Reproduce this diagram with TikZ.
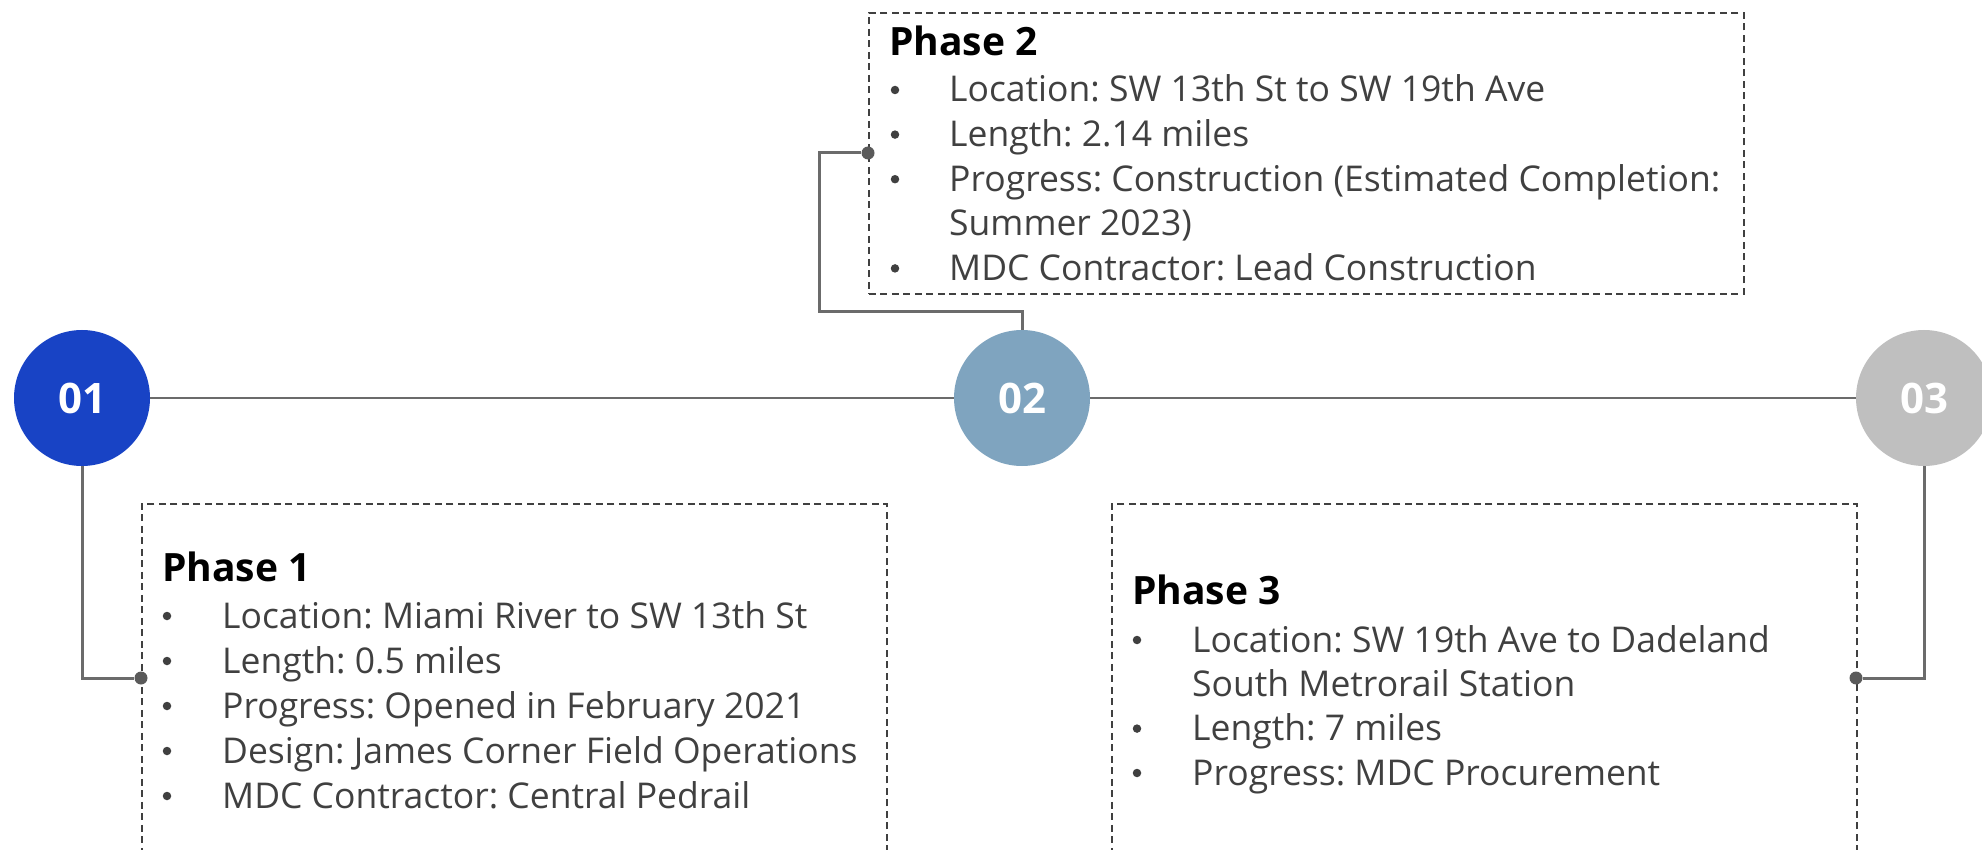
\documentclass[tikz,border=0pt]{standalone}
\usepackage{fontspec}
\setmainfont{Open Sans}
\frenchspacing
\definecolor{stageblue}{HTML}{1843C5}
\definecolor{stagesteel}{HTML}{7FA4BF}
\definecolor{stagesilver}{HTML}{BFBFBF}
\definecolor{linegray}{HTML}{6B6B6B}
\definecolor{dotgray}{HTML}{5A5A5A}
\definecolor{textgray}{HTML}{404040}
\definecolor{dashgray}{HTML}{404040}
\begin{document}
\begin{tikzpicture}[x=1pt,y=-1pt,
  stage/.style={circle, minimum size=136pt, inner sep=0pt, text=white,
    font=\fontsize{42}{50}\selectfont\bfseries},
  phasebox/.style={draw=dashgray, line width=1.6pt, dash pattern=on 7pt off 4.5pt,
    anchor=north west, inner sep=0pt},
  dot/.style={circle, fill=dotgray, minimum size=13pt, inner sep=0pt},
  title/.style={anchor=base west, inner sep=0pt, font=\fontsize{39}{46}\selectfont\bfseries},
  item/.style={anchor=base west, inner sep=0pt, text=textgray, font=\fontsize{35.5}{42}\selectfont},
  bullet/.style={circle, fill=textgray, minimum size=8.5pt, inner sep=0pt},
  rail/.style={draw=linegray, line width=2pt},
  link/.style={draw=linegray, line width=3pt}]
\clip (0,0) rectangle (1982,850);

% timeline stages
\node[stage, fill=stageblue]   (c1) at (82,398)   {01};
\node[stage, fill=stagesteel]  (c2) at (1022,398) {02};
\node[stage, fill=stagesilver] (c3) at (1924,398) {03};
\draw[rail] (c1) -- (c2);
\draw[rail] (c2) -- (c3);

% dashed phase boxes
\node[phasebox, minimum width=745pt, minimum height=420pt] (box1) at (141,503) {};
\node[phasebox, minimum width=875pt, minimum height=281pt] (box2) at (868,12) {};
\node[phasebox, minimum width=745pt, minimum height=420pt] (box3) at (1111,503) {};

% connectors from stages to boxes
\node[dot] (d1) at (141,678) {};
\node[dot] (d2) at (868,153) {};
\node[dot] (d3) at (1856,678) {};
\draw[link] (c1.south) |- (d1);
\draw[link] (c2.north) -- ++(0,-18) -| ([xshift=-49pt]d2.center) -- (d2);
\draw[link] (c3.south) |- (d3);

% bullets sit at the middle of the x-height, 12pt above each baseline
% Phase 1
\node[title] (t1) at (162,581) {Phase 1};
\foreach \txt [count=\i from 0] in {Location: Miami River to SW 13th St,
    Length: 0.5 miles, Progress: Opened in February 2021,
    Design: James Corner Field Operations, MDC Contractor: Central Pedrail} {
  \node[bullet] (b1\i) at (167,616+45*\i) {};
  \node[item] (l1\i) at (222,628+45*\i) {\txt};
}

% Phase 2
\node[title] (t2) at (889,56) {Phase 2};
\node[bullet] (b20) at (895,90) {};
\node[item] (l20) at (949,102) {Location: SW 13th St to SW 19th Ave};
\node[bullet] (b21) at (895,134.6) {};
\node[item] (l21) at (949,146.6) {Length: 2.14 miles};
\node[bullet] (b22) at (895,179.2) {};
\node[item] (l22) at (949,191.2) {Progress: Construction (Estimated Completion:};
\node[item] (l23) at (949,235.8) {Summer 2023)};
\node[bullet] (b24) at (895,268.4) {};
\node[item] (l24) at (949,280.4) {MDC Contractor: Lead Construction};

% Phase 3
\node[title] (t3) at (1132,604) {Phase 3};
\node[bullet] (b30) at (1137,640) {};
\node[item] (l30) at (1192,652) {Location: SW 19th Ave to Dadeland};
\node[item] (l31) at (1192,696.3) {South Metrorail Station};
\node[bullet] (b32) at (1137,728.6) {};
\node[item] (l32) at (1192,740.6) {Length: 7 miles};
\node[bullet] (b33) at (1137,773) {};
\node[item] (l33) at (1192,785) {Progress: MDC Procurement};
\end{tikzpicture}
\end{document}
